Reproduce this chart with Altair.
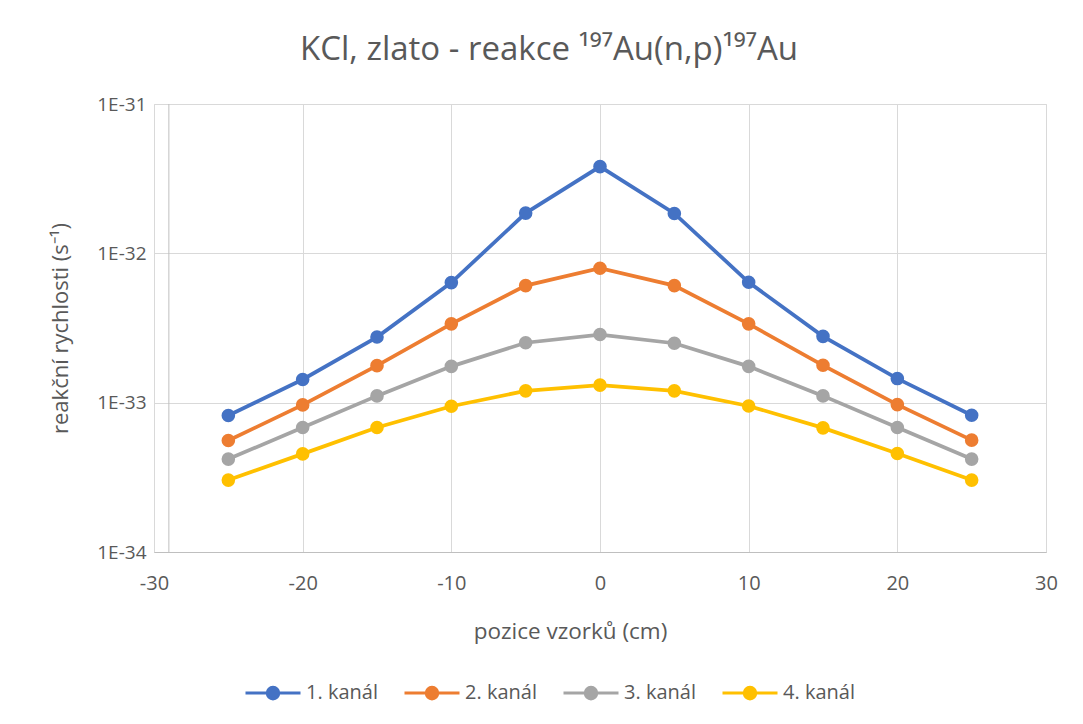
import altair as alt
import pandas as pd

# ---- data ----
positions = [-25, -20, -15, -10, -5, 0, 5, 10, 15, 20, 25]
series_names = ["1. kanál", "2. kanál", "3. kanál", "4. kanál"]
kanal_1 = [8.2e-34, 1.43e-33, 2.75e-33, 6.37e-33, 1.86e-32, 3.81e-32, 1.85e-32, 6.4e-33, 2.78e-33, 1.45e-33, 8.24e-34]
kanal_2 = [5.58e-34, 9.66e-34, 1.77e-33, 3.37e-33, 6.08e-33, 7.94e-33, 6.08e-33, 3.37e-33, 1.78e-33, 9.71e-34, 5.61e-34]
kanal_3 = [4.19e-34, 6.82e-34, 1.11e-33, 1.75e-33, 2.52e-33, 2.86e-33, 2.50e-33, 1.75e-33, 1.11e-33, 6.82e-34, 4.19e-34]
kanal_4 = [3.03e-34, 4.54e-34, 6.82e-34, 9.46e-34, 1.20e-33, 1.31e-33, 1.20e-33, 9.50e-34, 6.78e-34, 4.57e-34, 3.03e-34]
colors = ["#4472C4", "#ED7D31", "#A5A5A5", "#FFC000"]
x_ticks = [-30, -20, -10, 0, 10, 20, 30]
y_ticks = [1e-34, 1e-33, 1e-32, 1e-31]
y_axis_cross = -29

rows = []
for name, vals in zip(series_names, [kanal_1, kanal_2, kanal_3, kanal_4]):
    for p, v in zip(positions, vals):
        rows.append({"pozice": p, "hodnota": v, "serie": name})
df = pd.DataFrame(rows)

FONT = "Open Sans"
TXT = "#595959"

x_enc = alt.X(
    "pozice:Q",
    scale=alt.Scale(domain=[-30, 30], nice=False, zero=False),
    axis=alt.Axis(
        values=x_ticks,
        title="pozice vzorků (cm)",
        labelExpr="'' + datum.value",
        labelFlush=False,
        labelFontSize=20,
        labelColor=TXT,
        labelPadding=21,
        labelFont=FONT,
        titleFont=FONT,
        titleFontSize=22.5,
        titleFontWeight="normal",
        titleColor=TXT,
        titleX=416,
        titleY=79,
        titleBaseline="middle",
        titleAnchor="middle",
        domainColor="#BFBFBF",
        domainWidth=1,
        ticks=False,
        gridColor="#D9D9D9",
        gridWidth=1,
    ),
)
y_enc = alt.Y(
    "hodnota:Q",
    scale=alt.Scale(type="log", domain=[1e-34, 1e-31], nice=False),
    axis=alt.Axis(
        values=y_ticks,
        title="reakční rychlosti (s⁻¹)",
        labelExpr="'1E' + round(log(datum.value) / LN10)",
        labelFlush=False,
        labelFontSize=19,
        labelColor=TXT,
        labelPadding=8,
        labelFont=FONT,
        titleFont=FONT,
        titleFontSize=22,
        titleFontWeight="normal",
        titleColor=TXT,
        titleX=-94,
        titleBaseline="middle",
        domain=False,
        ticks=False,
        gridColor="#D9D9D9",
        gridWidth=1,
    ),
)

color_scale = alt.Scale(domain=series_names, range=colors)

legend_symbol = (
    "M-1,0H1"
    "M0.21,0A0.21,0.21,0,1,1,-0.21,0A0.21,0.21,0,1,1,0.21,0"
    "M0.1,0A0.1,0.1,0,1,1,-0.1,0A0.1,0.1,0,1,1,0.1,0"
    "M0.02,0A0.02,0.02,0,1,1,-0.02,0A0.02,0.02,0,1,1,0.02,0"
)

base = alt.Chart(df)

lines = base.mark_line(strokeWidth=3.75).encode(
    x=x_enc,
    y=y_enc,
    color=alt.Color(
        "serie:N",
        scale=color_scale,
        sort=series_names,
        legend=alt.Legend(
            title=None,
            orient="none",
            legendX=90,
            legendY=560,
            direction="horizontal",
            columns=4,
            columnPadding=20,
            symbolType=legend_symbol,
            symbolSize=3025,
            symbolStrokeWidth=3,
            labelFont=FONT,
            labelFontSize=20,
            labelColor=TXT,
            labelOffset=4,
            padding=0,
        ),
    ),
    detail="serie:N",
)

points = base.mark_circle(size=185, opacity=1).encode(
    x="pozice:Q",
    y="hodnota:Q",
    color=alt.Color("serie:N", scale=color_scale, legend=None),
)

axis_line = alt.Chart(pd.DataFrame({"cross": [y_axis_cross]})).mark_rule(
    color="#BFBFBF", strokeWidth=1
).encode(x="cross:Q")

chart = (
    alt.layer(axis_line, lines, points)
    .properties(
        width=892,
        height=448,
        autosize=alt.AutoSizeParams(type="none"),
        padding={"left": 146, "top": 96, "right": 29, "bottom": 164},
        title=alt.TitleParams(
            text="KCl, zlato - reakce ¹⁹⁷Au(n,p)¹⁹⁷Au",
            font=FONT,
            fontSize=33,
            fontWeight="normal",
            color=TXT,
            anchor="middle",
            frame="group",
            baseline="alphabetic",
            offset=2,
            dx=-51,
        ),
    )
    .configure_view(stroke=None)
    .configure(background="white")
)

chart.save("out.html", embed_options={"renderer": "svg", "actions": False})
